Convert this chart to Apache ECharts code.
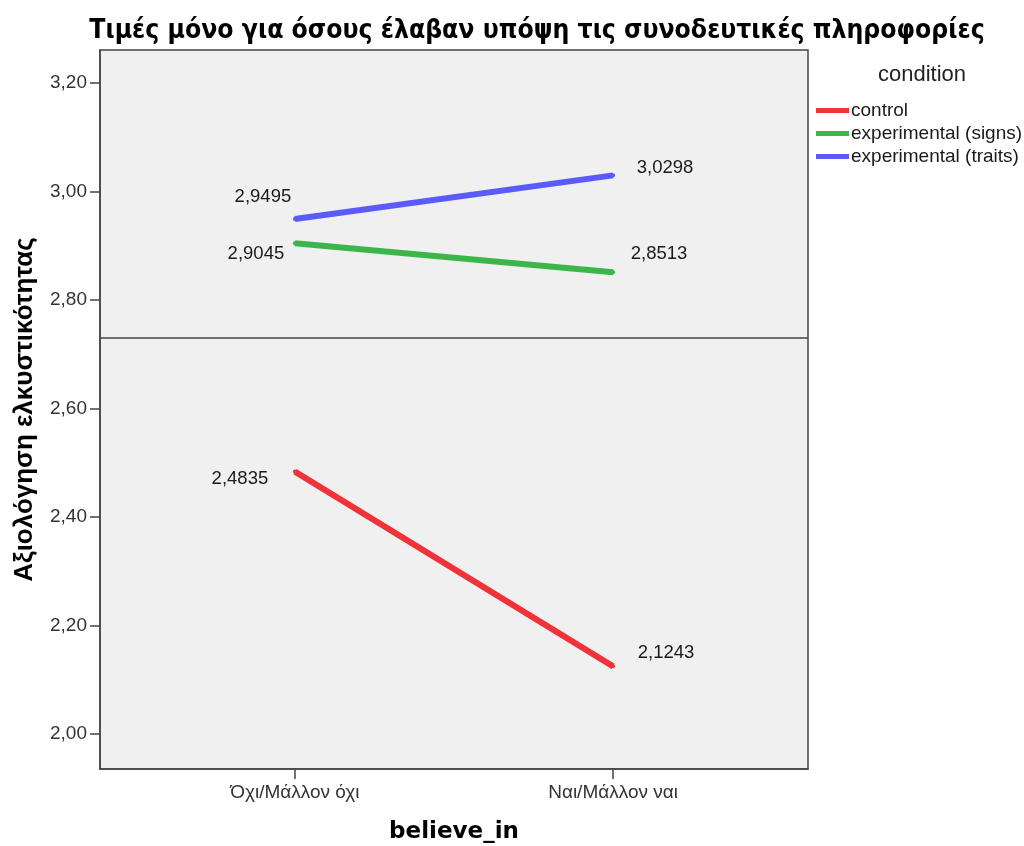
<!DOCTYPE html>
<html>
<head>
<meta charset="utf-8">
<script src="https://cdn.jsdelivr.net/npm/echarts@6/dist/echarts.min.js"></script>
<style>html,body{margin:0;padding:0;background:#fff}#c{width:1024px;height:846px}</style>
</head>
<body>
<div id="c"></div>
<script>
const categories = ['Όχι/Μάλλον όχι', 'Ναι/Μάλλον ναι'];
const seriesNames = ['control', 'experimental (signs)', 'experimental (traits)'];
const controlValues = [2.4835, 2.1243];
const signsValues = [2.9045, 2.8513];
const traitsValues = [2.9495, 3.0298];
const yTicks = [2.0, 2.2, 2.4, 2.6, 2.8, 3.0, 3.2];
const referenceValue = 2.7296;

const colors = ['#ef3338', '#3cb54a', '#5b5bfb'];
// label offsets (styling only)
const labelOffsets = [
  [[-55, 7], [53, -13]],
  [[-39, 11], [46, -18]],
  [[-32, -22], [52, -7]]
];
const allValues = [controlValues, signsValues, traitsValues];
const fmt = v => v.toFixed(4).replace('.', ',');
const font = 'Liberation Sans, Arial, sans-serif';

const series = allValues.map((vals, si) => ({
  name: seriesNames[si],
  type: 'line',
  symbol: 'circle',
  symbolSize: 4,
  showSymbol: true,
  lineStyle: { width: 6, color: colors[si] },
  itemStyle: { color: colors[si] },
  z: 3,
  data: vals.map((v, i) => ({
    value: [i, v],
    label: {
      show: true,
      position: 'inside',
      offset: labelOffsets[si][i],
      formatter: () => fmt(v),
      color: '#1a1a1a',
      fontSize: 18.5,
      fontFamily: font
    }
  }))
}));

series.push({
  type: 'line',
  data: [],
  markLine: {
    silent: true,
    symbol: 'none',
    label: { show: false },
    lineStyle: { color: '#444', width: 1.5, type: 'solid' },
    data: [{ yAxis: referenceValue }]
  }
});

const chart = echarts.init(document.getElementById('c'));
chart.setOption({
  animation: false,
  backgroundColor: '#fff',
  title: [{
    text: 'Τιμές μόνο για όσους έλαβαν υπόψη τις συνοδευτικές πληροφορίες',
    left: 532, top: 13, textAlign: 'center',
    textStyle: { fontFamily: 'Liberation Sans Narrow, Arial Narrow, DejaVu Sans Condensed, sans-serif', fontWeight: 'bold', fontSize: 26.3, color: '#000' }
  }, {
    text: 'condition',
    left: 917, top: 59, textAlign: 'center',
    textStyle: { fontFamily: font, fontWeight: 'normal', fontSize: 22, color: '#222' }
  }],
  legend: {
    orient: 'vertical',
    left: 811, top: 96,
    itemWidth: 33, itemHeight: 5, itemGap: 4,
    icon: 'rect',
    data: seriesNames,
    textStyle: { fontFamily: font, fontSize: 19, color: '#1a1a1a', padding: [0, 0, 0, -3] }
  },
  grid: {
    left: 100, right: 216, top: 50, bottom: 77,
    outerBoundsMode: 'none',
    containLabel: false,
    show: true, backgroundColor: '#f0f0f0', borderColor: '#444', borderWidth: 1.5
  },
  xAxis: {
    type: 'value',
    min: -0.6126, max: 1.6126,
    name: 'believe_in',
    nameLocation: 'middle',
    nameGap: 52,
    nameTextStyle: { fontFamily: 'DejaVu Sans, sans-serif', fontWeight: 'bold', fontSize: 23, color: '#000' },
    axisLine: { show: true, onZero: false, lineStyle: { color: '#444', width: 1.5 } },
    axisTick: { show: true, customValues: [0, 1], length: 10, lineStyle: { color: '#444', width: 1.5 } },
    axisLabel: { customValues: [0, 1], formatter: v => categories[Math.round(v)] || '', fontFamily: font, fontSize: 19, color: '#333', margin: 14 },
    splitLine: { show: false }
  },
  yAxis: {
    type: 'value',
    min: 1.935, max: 3.261,
    name: 'Αξιολόγηση ελκυστικότητας',
    nameLocation: 'middle',
    nameGap: 62,
    nameTextStyle: { fontFamily: font, fontWeight: 'bold', fontSize: 26, color: '#000' },
    axisLine: { show: true, onZero: false, lineStyle: { color: '#444', width: 1.5 } },
    axisTick: { show: true, customValues: yTicks, length: 10, lineStyle: { color: '#444', width: 1.5 } },
    axisLabel: { customValues: yTicks, formatter: v => v.toFixed(2).replace('.', ','), fontFamily: font, fontSize: 19, color: '#333', margin: 13 },
    splitLine: { show: false }
  },
  series: series
});
</script>
</body>
</html>
